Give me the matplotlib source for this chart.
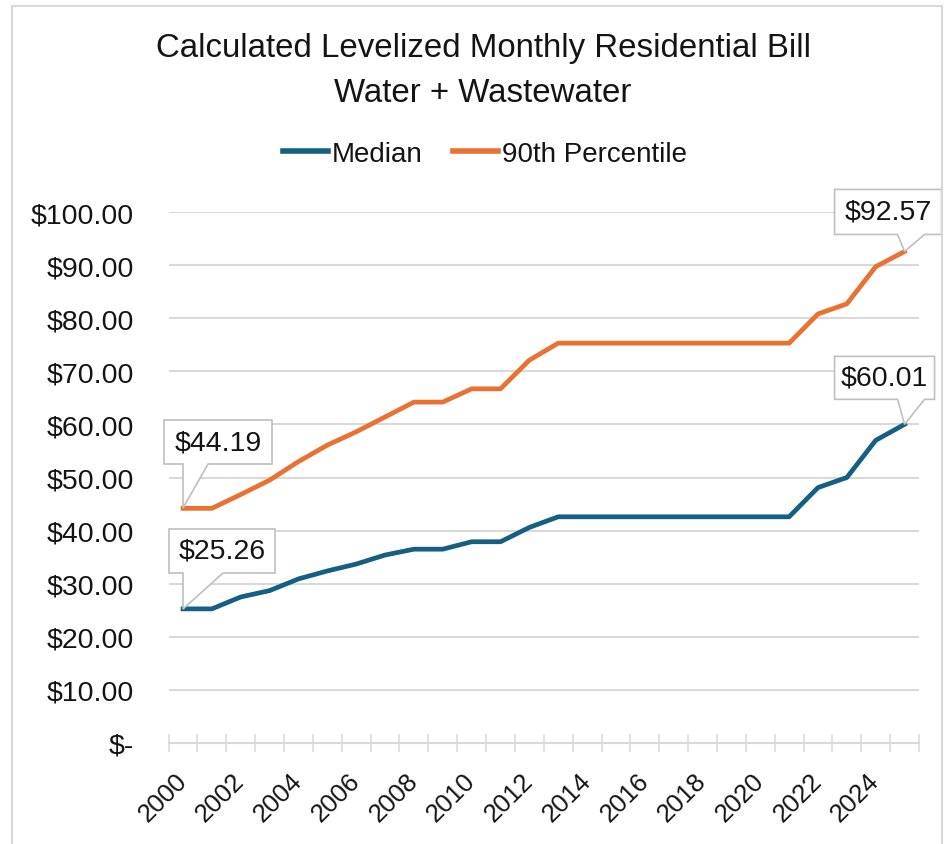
import matplotlib
matplotlib.use("Agg")
import matplotlib.pyplot as plt
import matplotlib.transforms as mtransforms
from matplotlib.patches import Polygon, Rectangle
from matplotlib.ticker import FuncFormatter, FixedLocator

plt.rcParams['font.family'] = ['Liberation Sans', 'DejaVu Sans']

# ---- data ----
years = list(range(2000, 2026))
median = [25.26, 25.26, 27.5, 28.7, 30.9, 32.4, 33.7, 35.4, 36.5, 36.5,
          37.9, 37.9, 40.6, 42.6, 42.6, 42.6, 42.6, 42.6, 42.6, 42.6,
          42.6, 42.6, 48.1, 50.0, 57.0, 60.01]
p90 = [44.19, 44.19, 46.8, 49.5, 53.0, 56.1, 58.6, 61.4, 64.2, 64.2,
       66.7, 66.7, 72.1, 75.3, 75.3, 75.3, 75.3, 75.3, 75.3, 75.3,
       75.3, 75.3, 80.8, 82.7, 89.7, 92.57]
series_names = ["Median", "90th Percentile"]
y_ticks = [0, 10, 20, 30, 40, 50, 60, 70, 80, 90, 100]
title_lines = ["Calculated Levelized Monthly Residential Bill", "Water + Wastewater"]

# ---- style ----
C_MED = "#156082"
C_P90 = "#E97132"
GRID = "#d9d9d9"
TXT = "#141414"

W, H = 947, 845
fig = plt.figure(figsize=(W / 100, H / 100), dpi=100)
ax = fig.add_axes([168.6 / W, 1 - 744 / H, (919 - 168.6) / W, (744 - 213) / H])

x = list(range(len(years)))
ax.plot(x, median, color=C_MED, lw=3.4, solid_joinstyle='round', label=series_names[0], zorder=3)
ax.plot(x, p90, color=C_P90, lw=3.4, solid_joinstyle='round', label=series_names[1], zorder=3)

ax.set_xlim(-0.5, len(years) - 0.5)
ax.set_ylim(0, 100)

# y axis
ax.set_yticks(y_ticks)
ax.yaxis.set_major_formatter(FuncFormatter(lambda v, p: "$-" if v == 0 else f"${v:,.2f}"))
ax.tick_params(axis='y', length=0, pad=25, labelsize=20.5, labelcolor=TXT)
ax.grid(axis='y', color=GRID, lw=1.5)
ax.set_axisbelow(True)
for s in ['left', 'right', 'top']:
    ax.spines[s].set_visible(False)
ax.spines['bottom'].set_color(GRID)
ax.spines['bottom'].set_linewidth(1.5)

# x axis: labels at even years, tick marks between categories
ax.xaxis.set_major_locator(FixedLocator([i for i in x if years[i] % 2 == 0]))
ax.set_xticklabels([str(years[i]) for i in x if years[i] % 2 == 0])
ax.xaxis.set_minor_locator(FixedLocator([i - 0.5 for i in range(len(years) + 1)]))
ax.tick_params(axis='x', which='major', length=0, pad=24, labelsize=18.5, labelcolor=TXT)
ax.tick_params(axis='x', which='minor', length=13, width=1.1, color=GRID, direction='inout')
for lab in ax.get_xticklabels():
    lab.set_rotation(45)
    lab.set_ha('right')
    lab.set_va('center')
    lab.set_rotation_mode('anchor')

# title & legend
fig.text(483 / W, 1 - 49 / H, title_lines[0], ha='center', va='center', fontsize=23.8, color=TXT)
fig.text(483 / W, 1 - 93 / H, title_lines[1], ha='center', va='center', fontsize=23.8, color=TXT)
leg = fig.legend(loc='center', bbox_to_anchor=(485 / W, 1 - 155 / H), ncol=2, frameon=False,
                 fontsize=20, handlelength=1.6, handletextpad=0.15, columnspacing=1.1)
for t in leg.get_texts():
    t.set_color(TXT)
for h in leg.get_lines():
    h.set_linewidth(4)


# callout data labels (box/wedge offsets in pixels relative to the data point)
def callout(i, vals, box, base, text):
    l, r, b, t = box
    b0, b1 = base
    pt_tr = mtransforms.ScaledTranslation(x[i], vals[i], ax.transData)
    verts = [(0, 0), (b0, b), (l, b), (l, t), (r, t), (r, b), (b1, b)]
    poly = Polygon(verts, closed=True, transform=mtransforms.Affine2D() + pt_tr,
                   facecolor='white', edgecolor='#bfbfbf', lw=1.2, zorder=5, clip_on=False)
    ax.add_patch(poly)
    ax.text(0, 0, text,
            transform=mtransforms.Affine2D().translate((l + r) / 2, (b + t) / 2) + pt_tr,
            ha='center', va='center', fontsize=20.5, zorder=6, color=TXT)


fmt = lambda v: f"${v:.2f}"
callout(0, p90, (-19, 89, 44, 88), (0, 25), fmt(p90[0]))
callout(0, median, (-14, 92, 36, 80), (0, 40), fmt(median[0]))
callout(len(x) - 1, p90, (-70, 37, 17, 62), (-7, 20), fmt(p90[-1]))
callout(len(x) - 1, median, (-70, 30, 25, 68), (-7, 20), fmt(median[-1]))

# chart area border
fig.patches.append(Rectangle((12 / W, -0.05), (942 - 12) / W, 1.05 - 7 / H,
                             transform=fig.transFigure, fill=False, edgecolor=GRID, lw=1.5))

fig.savefig("out.png", dpi=100)
